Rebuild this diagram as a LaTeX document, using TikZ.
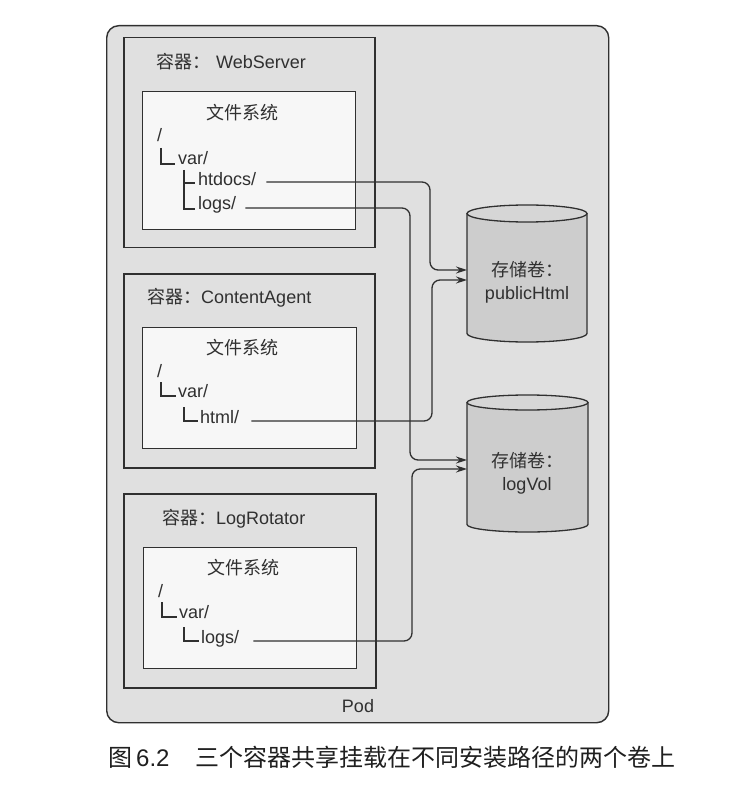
\documentclass[tikz,border=0pt]{standalone}
\usepackage{fontspec}
\setmainfont{Liberation Sans}
\newfontfamily\cjk{Noto Sans CJK SC}
\usetikzlibrary{arrows.meta,calc}
\definecolor{podgray}{RGB}{224,224,224}
\definecolor{fsgray}{RGB}{247,247,247}
\definecolor{cylgray}{RGB}{205,205,205}
\definecolor{cyltop}{RGB}{214,214,214}
\definecolor{ink}{RGB}{48,48,48}
\begin{document}
\begin{tikzpicture}[x=1pt,y=-1pt,
  podbox/.style={draw=ink, line width=1.4pt, fill=podgray, rounded corners=12pt, inner sep=0pt, anchor=north west},
  cbox/.style={draw=ink, line width=1.5pt, fill=podgray, inner sep=0pt, anchor=north west},
  fsbox/.style={draw=ink, line width=1.3pt, fill=fsgray, inner sep=0pt, anchor=north west},
  lbl/.style={inner sep=0pt, font=\fontsize{18}{23}\selectfont, text=ink},
  tline/.style={draw=ink, line width=1.4pt},
  conn/.style={draw=ink, line width=1.3pt, rounded corners=8pt, -{Stealth[length=11pt,width=7pt]}},
  cylline/.style={draw=ink, line width=1.3pt},
  cylnode/.style={inner sep=0pt, anchor=north west}
]
\useasboundingbox (0,0) rectangle (748,791);
\fill[white] (0,0) rectangle (748,791);

% Pod
\node[podbox, minimum width=502pt, minimum height=697pt] (pod) at (106,25) {};
\node[lbl, anchor=base] (podlbl) at (358,712) {Pod};

% Container 1
\node[cbox, minimum width=251pt, minimum height=210pt] (c1) at (123,37) {};
\node[fsbox, minimum width=213pt, minimum height=138pt] (f1) at (142,91) {};
\node[lbl, anchor=base west] (t1) at (156,69) {{\cjk 容器：}\hspace{6pt}WebServer};
\node[lbl] (fs1) at (242,113) {\cjk 文件系统};
\node[lbl, anchor=base west] (root1) at (157,142) {/};
\node[lbl, anchor=base west] (var1) at (178,165) {var/};
\node[lbl, anchor=base west] (htdocs) at (198,186) {htdocs/};
\node[lbl, anchor=base west] (logs1) at (198,210) {logs/};
\draw[tline] (161,148) |- (175,164);
\draw[tline] (184,170) |- (195,209);
\draw[tline] (184,183) -- (195,183);

% Container 2
\node[cbox, minimum width=251pt, minimum height=194pt] (c2) at (123,273) {};
\node[fsbox, minimum width=214pt, minimum height=121pt] (f2) at (142,327) {};
\node[lbl, anchor=base west] (t2) at (147,303) {{\cjk 容器：}ContentAgent};
\node[lbl] (fs2) at (242,348) {\cjk 文件系统};
\node[lbl, anchor=base west] (root2) at (157,377) {/};
\node[lbl, anchor=base west] (var2) at (178,397) {var/};
\node[lbl, anchor=base west] (html) at (200,423) {html/};
\draw[tline] (161,382) |- (176,396);
\draw[tline] (184,407) |- (198,421);

% Container 3
\node[cbox, minimum width=252pt, minimum height=194pt] (c3) at (123,493) {};
\node[fsbox, minimum width=213pt, minimum height=121pt] (f3) at (143,547) {};
\node[lbl, anchor=base west] (t3) at (162,524) {{\cjk 容器：}LogRotator};
\node[lbl] (fs3) at (243,568) {\cjk 文件系统};
\node[lbl, anchor=base west] (root3) at (158,597) {/};
\node[lbl, anchor=base west] (var3) at (179,618) {var/};
\node[lbl, anchor=base west] (logs3) at (201,643) {logs/};
\draw[tline] (162,602) |- (177,617);
\draw[tline] (184,627) |- (199,641);

% Volume publicHtml
\node[cylnode, minimum width=120pt, minimum height=137pt] (cyl1) at (467,205) {};
\fill[cylgray] (467,213.5) -- (467,333.5) arc[start angle=180, end angle=360, x radius=60pt, y radius=8.5pt] -- (587,213.5) arc[start angle=0, end angle=180, x radius=60pt, y radius=8.5pt] -- cycle;
\draw[cylline] (467,213.5) -- (467,333.5) arc[start angle=180, end angle=360, x radius=60pt, y radius=8.5pt] -- (587,213.5);
\draw[cylline, fill=cyltop] (527,213.5) ellipse [x radius=60pt, y radius=8.5pt];
\node[lbl, align=center] (v1) at (527,282) {{\cjk 存储卷：}\\publicHtml};

% Volume logVol
\node[cylnode, minimum width=121pt, minimum height=137pt] (cyl2) at (467,395) {};
\fill[cylgray] (467,402.5) -- (467,524.5) arc[start angle=180, end angle=360, x radius=60.5pt, y radius=7.5pt] -- (588,402.5) arc[start angle=0, end angle=180, x radius=60.5pt, y radius=7.5pt] -- cycle;
\draw[cylline] (467,402.5) -- (467,524.5) arc[start angle=180, end angle=360, x radius=60.5pt, y radius=7.5pt] -- (588,402.5);
\draw[cylline, fill=cyltop] (527.5,402.5) ellipse [x radius=60.5pt, y radius=7.5pt];
\node[lbl, align=center] (v2) at (527,473) {{\cjk 存储卷：}\\logVol};

% Connectors
\coordinate (k1) at (430,270);
\coordinate (k2) at (410,460);
\coordinate (k3) at (432,280);
\coordinate (k4) at (412,469);
\draw[conn] ($(htdocs.base east)+(10,-4)$) -| (k1) -- (k1 -| cyl1.west);
\draw[conn] ($(logs1.base east)+(9,-2)$) -| (k2) -- (k2 -| cyl2.west);
\draw[conn] ($(html.base east)+(12,-2)$) -| (k3) -- (k3 -| cyl1.west);
\draw[conn] ($(logs3.base east)+(14,-2)$) -| (k4) -- (k4 -| cyl2.west);

% Caption
\node[anchor=west, inner sep=0pt, font=\fontsize{24}{29}\selectfont, text=black!88] (cap) at (108,757) {{\cjk 图}\hspace{4pt}6.2\hspace{26pt}{\cjk 三个容器共享挂载在不同安装路径的两个卷上}};
\end{tikzpicture}
\end{document}
